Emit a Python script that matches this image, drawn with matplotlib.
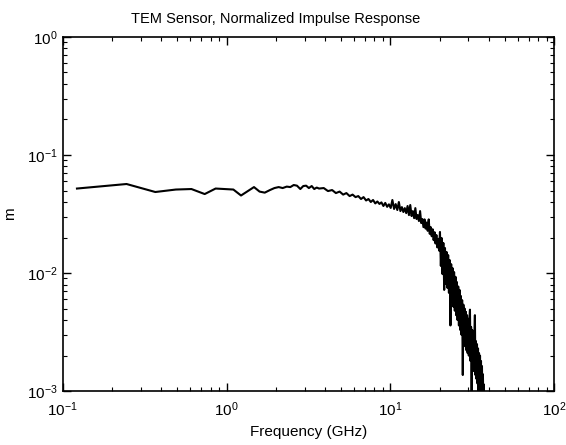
import matplotlib
matplotlib.use("Agg")
import matplotlib.pyplot as plt
from matplotlib.ticker import LogLocator, NullFormatter

plt.rcParams['font.family'] = ['Liberation Sans', 'DejaVu Sans']
plt.rcParams['mathtext.default'] = 'regular'

# frequency (GHz) and normalized magnitude
freq_low = [0.122, 0.245, 0.367, 0.49, 0.61, 0.735, 0.857, 0.98, 1.10, 1.225,
            1.35, 1.47, 1.59, 1.71, 1.84, 1.96, 2.08, 2.20, 2.33, 2.45,
            2.57, 2.69, 2.82, 2.94, 3.06, 3.18, 3.31, 3.43, 3.55, 3.67]
mag_low = [0.052, 0.0568, 0.0486, 0.051, 0.0515, 0.0467, 0.052, 0.0515, 0.051, 0.0454,
           0.0495, 0.0535, 0.049, 0.048, 0.0505, 0.0525, 0.0535, 0.0525, 0.054, 0.0535,
           0.0557, 0.055, 0.0515, 0.0546, 0.055, 0.0525, 0.0546, 0.0515, 0.053, 0.052]

freq_mid = [3.92, 4.16, 4.41, 4.65, 4.90, 5.15, 5.39, 5.64, 5.88, 6.13,
            6.37, 6.62, 6.86, 7.11, 7.35, 7.60, 7.84, 8.09, 8.33, 8.58,
            8.82, 9.07, 9.31, 9.56, 9.80, 10.05]
mag_mid = [0.0525, 0.0495, 0.0505, 0.0476, 0.049, 0.0462, 0.0476, 0.0449, 0.0462, 0.044,
           0.0449, 0.0424, 0.044, 0.0412, 0.0424, 0.040, 0.0416, 0.0389, 0.0404, 0.0385,
           0.0397, 0.037, 0.0393, 0.0364, 0.0382, 0.0356]

freq_roll = [10.29, 10.54, 10.78, 11.03, 11.27, 11.52, 11.76, 12.01, 12.25, 12.50,
             12.74, 12.99, 13.23, 13.48, 13.72, 13.97, 14.21, 14.46, 14.70, 14.95,
             15.19, 15.44, 15.68, 15.93, 16.17, 16.42, 16.66, 16.91, 17.15, 17.40,
             17.64, 17.89, 18.13, 18.38, 18.62, 18.87, 19.11, 19.36, 19.60, 19.85]
mag_roll = [0.0416, 0.0349, 0.0384, 0.0342, 0.040, 0.0335, 0.0362, 0.0329, 0.0355, 0.0322,
            0.037, 0.031, 0.0377, 0.0304, 0.0335, 0.0292, 0.0355, 0.0287, 0.031, 0.0276,
            0.0335, 0.0265, 0.0287, 0.0245, 0.0285, 0.0238, 0.0268, 0.0228, 0.0285, 0.0215,
            0.0245, 0.0205, 0.0235, 0.019, 0.0222, 0.0178, 0.021, 0.0165, 0.0195, 0.0155]

freq_high = [20.09, 20.34, 20.58, 20.83, 21.07, 21.32, 21.56, 21.81, 22.05, 22.30,
             22.54, 22.79, 23.03, 23.28, 23.52, 23.77, 24.01, 24.26, 24.50, 24.75,
             24.99, 25.24, 25.48, 25.73, 25.97, 26.22, 26.46, 26.71, 26.95, 27.20,
             27.44, 27.69, 27.93, 28.18, 28.42, 28.67, 28.91, 29.16, 29.40, 29.65,
             29.89, 30.14, 30.38, 30.63, 30.87, 31.12, 31.36, 31.61, 31.85, 32.10,
             32.34, 32.59, 32.83, 33.08, 33.32, 33.57, 33.81, 34.06, 34.30, 34.55,
             34.79, 35.04, 35.28, 35.53, 35.77, 36.02, 36.26, 36.51, 36.75, 37.00,
             37.24, 37.49, 37.73, 37.98]
mag_high = [0.0223, 0.0115, 0.0198, 0.0098, 0.0180, 0.0072, 0.0163, 0.0081, 0.0151, 0.0075,
            0.0142, 0.0068, 0.0129, 0.0036, 0.0119, 0.0057, 0.0110, 0.0052, 0.0102, 0.0048,
            0.0093, 0.0044, 0.0084, 0.0040, 0.0077, 0.0036, 0.0072, 0.0033, 0.0064, 0.0030,
            0.0059, 0.00137, 0.0054, 0.0026, 0.0050, 0.0024, 0.0047, 0.00222, 0.0044, 0.0021,
            0.0041, 0.0020, 0.0039, 0.0049, 0.0018, 0.0035, 0.00093, 0.0033, 0.0016, 0.0031,
            0.00148, 0.0029, 0.0044, 0.00137, 0.00265, 0.00127, 0.0025, 0.00116, 0.0023, 0.00084,
            0.0021, 0.00102, 0.0020, 0.00093, 0.0018, 0.00081, 0.00163, 0.00077, 0.00139, 0.00069,
            0.00114, 0.00062, 0.00057, 0.00047]

freq = freq_low + freq_mid + freq_roll + freq_high
mag = mag_low + mag_mid + mag_roll + mag_high

fig = plt.figure(figsize=(5.66, 4.45), dpi=100)
ax = fig.add_axes([0.111, 0.121, 0.868, 0.796])

ax.loglog(freq, mag, color='black', linewidth=1.5)

ax.set_xlim(0.1, 100)
ax.set_ylim(1e-3, 1)

ax.xaxis.set_minor_locator(LogLocator(base=10, subs=range(2, 10)))
ax.yaxis.set_minor_locator(LogLocator(base=10, subs=range(2, 10)))
ax.xaxis.set_minor_formatter(NullFormatter())
ax.yaxis.set_minor_formatter(NullFormatter())
ax.tick_params(which='both', direction='in', top=True, right=True, labelsize=11)
ax.tick_params(which='major', length=6, width=1)
ax.tick_params(which='minor', length=3, width=0.8)
ax.tick_params(axis='y', which='major', pad=4)
ax.tick_params(axis='x', which='major', pad=7)
for s in ax.spines.values():
    s.set_linewidth(1.2)

ax.set_title("TEM Sensor, Normalized Impulse Response", fontsize=10.5, pad=10, x=0.434)
ax.set_xlabel("Frequency (GHz)", fontsize=11, labelpad=4)
ax.set_ylabel("m", fontsize=11)
ax.yaxis.set_label_coords(-0.094, 0.5)

fig.savefig("out.png", dpi=100)
